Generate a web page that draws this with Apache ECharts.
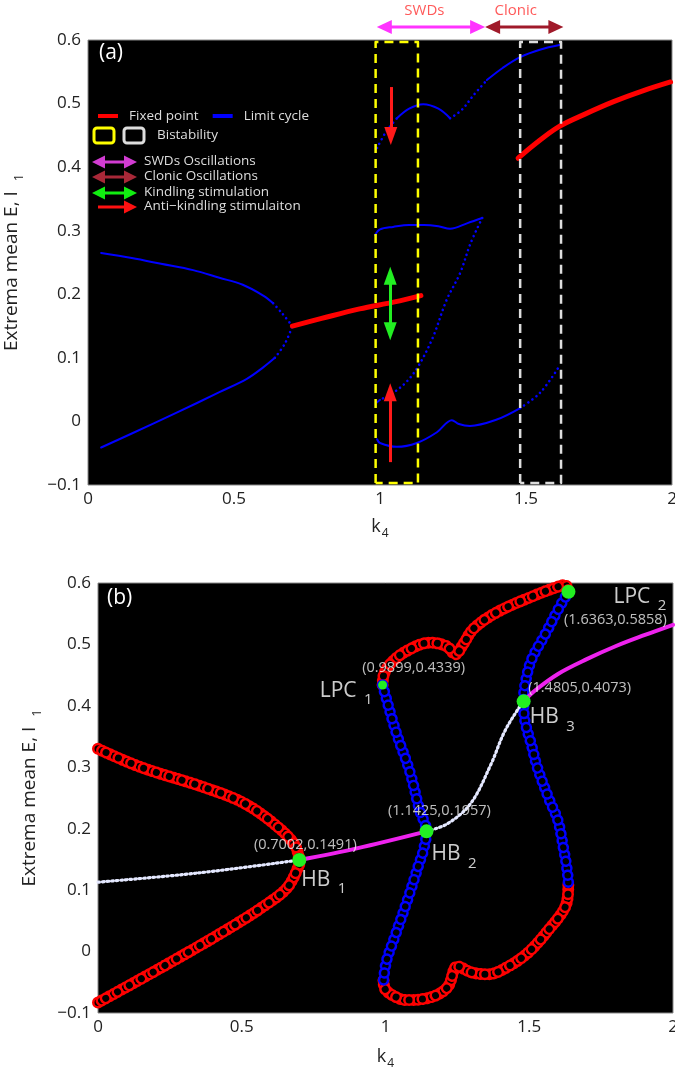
<!DOCTYPE html>
<html><head><meta charset="utf-8">
<script src="https://cdn.jsdelivr.net/npm/echarts/dist/echarts.min.js"></script>
<style>html,body{margin:0;padding:0;background:#fff}#c{width:675px;height:1078px}</style>
</head><body><div id="c"></div>
<script>
// ---------- axis ticks ----------
const xTickValues = [0, 0.5, 1, 1.5, 2];
const yTickValues = [-0.1, 0, 0.1, 0.2, 0.3, 0.4, 0.5, 0.6];

// ---------- panel (a) ----------
const A_upperL_solid = [[0.045,0.265],[0.15,0.257],[0.25,0.248],[0.36,0.238],[0.45,0.226],[0.53,0.215],[0.6,0.198],[0.634,0.186]];
const A_upperL_dots  = [[0.634,0.186],[0.665,0.17],[0.70,0.15]];
const A_lowerL_solid = [[0.045,-0.041],[0.15,-0.019],[0.3,0.013],[0.45,0.046],[0.544,0.067],[0.6,0.085],[0.64,0.1]];
const A_lowerL_dots  = [[0.64,0.1],[0.675,0.123],[0.70,0.15]];
const A_fixed1 = [[0.70,0.15],[0.8,0.162],[0.93,0.177],[1.05,0.188],[1.14,0.198]];
const A_fixed2 = [[1.473,0.414],[1.53,0.436],[1.61,0.463],[1.70,0.483],[1.80,0.503],[1.90,0.52],[1.995,0.534]];
const A_max1_dotsA  = [[0.99,0.43],[1.02,0.455],[1.058,0.477]];
const A_max1_solidA = [[1.058,0.477],[1.1,0.492],[1.148,0.499],[1.2,0.492],[1.24,0.477]];
const A_max1_dotsB  = [[1.24,0.477],[1.28,0.49],[1.32,0.513],[1.366,0.537]];
const A_max1_solidB = [[1.366,0.537],[1.42,0.556],[1.48,0.573],[1.55,0.585],[1.615,0.592]];
const A_max2_solid  = [[0.983,0.293],[1.0,0.302],[1.045,0.306],[1.1,0.309],[1.15,0.309],[1.2,0.307],[1.24,0.303],[1.3,0.312],[1.35,0.32]];
const A_max2_dots   = [[1.35,0.32],[1.31,0.28],[1.274,0.233],[1.228,0.191],[1.18,0.131],[1.13,0.086],[1.09,0.062],[1.045,0.045],[1.0,0.034]];
const A_max2_tail   = [[1.0,0.034],[0.99,0.03]];
const A_min_solid = [[0.99,-0.028],[1.0,-0.034],[1.058,-0.04],[1.126,-0.034],[1.195,-0.017],[1.246,0.002],[1.27,-0.004],[1.308,-0.007],[1.4,0.003],[1.48,0.021]];
const A_min_dots  = [[1.48,0.021],[1.548,0.045],[1.61,0.084]];
const A_boxYellowK = [0.985, 1.13];
const A_boxGrayK   = [1.48, 1.62];
const A_boxV       = [-0.097, 0.597];
const A_arrowRedDown = [[1.037,0.526],[1.037,0.449]];
const A_arrowGreen   = [[1.035,0.229],[1.035,0.142]];
const A_arrowRedUp   = [[1.035,-0.064],[1.035,0.046]];
const A_arrowSWD     = [[0.989,0.6205],[1.36,0.6205]];
const A_arrowClonic  = [[1.36,0.6205],[1.628,0.6205]];
const A_topTexts = ['SWDs','Clonic'];
const A_topTextPts = [[1.152,0.6456],[1.465,0.6456]];

// ---------- panel (b) ----------
const B_redUpperL = [[0,0.33],[0.15,0.30],[0.365,0.268],[0.506,0.242],[0.62,0.205],[0.684,0.174],[0.70,0.151]];
const B_redLowerL = [[0,-0.083],[0.22,-0.026],[0.435,0.032],[0.577,0.074],[0.66,0.105],[0.70,0.142]];
const B_unstable1 = [[0,0.113],[0.35,0.128],[0.7,0.149]];
const B_stable1   = [[0.7002,0.1491],[0.9,0.168],[1.1425,0.1957]];
const B_unstable2 = [[1.1425,0.1957],[1.215,0.208],[1.296,0.241],[1.366,0.304],[1.413,0.357],[1.46,0.394],[1.4805,0.4073]];
const B_stable2   = [[1.4805,0.4073],[1.52,0.425],[1.6,0.452],[1.7,0.476],[1.8,0.497],[1.9,0.515],[2.0,0.532]];
const B_blueLeft  = [[0.9899,0.4339],[1.037,0.357],[1.084,0.294],[1.119,0.23],[1.1425,0.1957],[1.132,0.165],[1.116,0.142],[1.08,0.089],[1.03,0.021],[1.003,-0.016],[0.993,-0.047]];
const B_redBottom = [[0.993,-0.047],[1.0,-0.062],[1.045,-0.076],[1.074,-0.079],[1.16,-0.074],[1.216,-0.058],[1.25,-0.024],[1.30,-0.034],[1.357,-0.037],[1.428,-0.024],[1.5,0.0],[1.57,0.037],[1.62,0.068],[1.634,0.089],[1.636,0.113]];
const B_blueRight = [[1.636,0.113],[1.634,0.124],[1.628,0.145],[1.62,0.166],[1.6,0.213],[1.57,0.247],[1.528,0.30],[1.508,0.336],[1.484,0.378],[1.4805,0.4073],[1.484,0.431],[1.507,0.474],[1.555,0.516],[1.602,0.558],[1.6363,0.5858]];
const B_redTop    = [[0.9899,0.4339],[0.995,0.452],[1.02,0.47],[1.072,0.489],[1.155,0.503],[1.213,0.497],[1.243,0.484],[1.27,0.5],[1.307,0.526],[1.39,0.553],[1.52,0.58],[1.6,0.594],[1.625,0.597],[1.6363,0.5858]];
const B_specialPts   = [[0.7002,0.1491],[1.1425,0.1957],[1.4805,0.4073],[0.9899,0.4339],[1.6363,0.5858]];
const B_specialNames = ['HB','HB','HB','LPC','LPC'];
const B_specialSubs  = ['1','2','3','1','2'];

// ---------- styles ----------
const FONT = 'Open Sans';
const RED = '#ff0000', BLUE = '#0000ff', MAG = '#ee22ee', GREEN = '#22ee22', DOT = '#e4e8ff';

function L(g, data, color, width, style, z, name) {
  const s = {type:'line', xAxisIndex:g, yAxisIndex:g, data, smooth:0.35, showSymbol:false, symbol:'none',
    silent:true, animation:false, z:z||2, color, itemStyle:{color},
    lineStyle:{color, width, type: style==='dot' ? [0.001, 5] : (style||'solid'), cap:'round', join:'round'}};
  if (name) s.name = name;
  return s;
}
// chain of hollow circles: several passes of round dots (colour) each followed by holes (black)
function rings(data, color, step, passes, z, outer, inner) {
  const out = [];
  const gap = step * passes;
  for (let p = 0; p < passes; p++) {
    const base = {type:'line', xAxisIndex:1, yAxisIndex:1, data, smooth:0.35, showSymbol:false, silent:true, animation:false};
    out.push(Object.assign({}, base, {z: z + p*0.1, lineStyle:{color, width:outer, type:[0.001,gap], dashOffset:-p*step, cap:'round'}}));
    out.push(Object.assign({}, base, {z: z + p*0.1 + 0.05, lineStyle:{color:'#000', width:inner, type:[0.001,gap], dashOffset:-p*step, cap:'round'}}));
  }
  return out;
}
function box(k, v) {
  return [[k[0],v[0]],[k[0],v[1]],[k[1],v[1]],[k[1],v[0]],[k[0],v[0]]];
}
function arrowSeries(pair, color, both) {
  return {type:'line', xAxisIndex:0, yAxisIndex:0, data:[], clip:false, silent:true, z:8,
    markLine:{silent:true, animation:false, symbol:[both?'triangle':'none','triangle'], symbolSize:[13,18],
      label:{show:false}, lineStyle:{color, width:3, type:'solid'},
      emphasis:{disabled:true},
      data:[[{coord:pair[0]},{coord:pair[1]}]]}};
}

const series = [];
// panel (a)
series.push(L(0, A_upperL_solid, BLUE, 2, 'solid', 3, 'Limit cycle'));
series.push(L(0, A_upperL_dots, BLUE, 2.6, 'dot', 3));
series.push(L(0, A_lowerL_solid, BLUE, 2, 'solid', 3));
series.push(L(0, A_lowerL_dots, BLUE, 2.6, 'dot', 3));
series.push(L(0, A_fixed1, RED, 5, 'solid', 4, 'Fixed point'));
series.push(L(0, A_fixed2, RED, 5, 'solid', 4));
series.push(L(0, A_max1_dotsA, BLUE, 2.6, 'dot', 3));
series.push(L(0, A_max1_solidA, BLUE, 2, 'solid', 3));
series.push(L(0, A_max1_dotsB, BLUE, 2.6, 'dot', 3));
series.push(L(0, A_max1_solidB, BLUE, 2, 'solid', 3));
series.push(L(0, A_max2_solid, BLUE, 2, 'solid', 3));
series.push(L(0, A_max2_dots, BLUE, 2.6, 'dot', 3));
series.push(L(0, A_max2_tail, BLUE, 2, 'solid', 3));
series.push(L(0, A_min_solid, BLUE, 2, 'solid', 3));
series.push(L(0, A_min_dots, BLUE, 2.6, 'dot', 3));
const yb = L(0, box(A_boxYellowK, A_boxV), '#ffff00', 2.5, [9,6], 5); yb.smooth = false; yb.lineStyle.cap='butt'; series.push(yb);
const gb = L(0, box(A_boxGrayK, A_boxV), '#dddddd', 2.5, [9,6], 5); gb.smooth = false; gb.lineStyle.cap='butt'; series.push(gb);
series.push(arrowSeries(A_arrowRedDown, '#ff1a1a', false));
series.push(arrowSeries(A_arrowGreen, '#22ee22', true));
series.push(arrowSeries(A_arrowRedUp, '#ff1a1a', false));
series.push({type:'scatter', xAxisIndex:0, yAxisIndex:0, clip:false, silent:true, symbolSize:0, z:9,
  data: A_topTextPts.map((p,i)=>({value:p, label:{formatter:A_topTexts[i]}})),
  label:{show:true, position:'inside', color:'#ff3030', fontSize:15, fontFamily:FONT}});

// panel (b)
[B_redUpperL, B_redLowerL, B_redBottom, B_redTop].forEach(d => rings(d, RED, 4.5, 3, 3, 12, 7).forEach(s=>series.push(s)));
[B_blueLeft, B_blueRight].forEach(d => rings(d, BLUE, 7, 2, 5, 11.5, 6.5).forEach(s=>series.push(s)));
series.push(L(1, B_unstable1, DOT, 3.2, [1.6,3], 7));
series.push(L(1, B_unstable2, DOT, 3.2, [1.6,3], 7));
series.push(L(1, B_stable1, MAG, 4, 'solid', 7));
series.push(L(1, B_stable2, MAG, 4, 'solid', 7));
const greenSizes = [14,14,14,9,14];
series.push({type:'scatter', xAxisIndex:1, yAxisIndex:1, silent:true, z:10,
  data: B_specialPts.map((p,i)=>({value:p, symbolSize:greenSizes[i]})),
  itemStyle:{color:GREEN, opacity:1}});
const coordOffsets = [[6,-15],[13,-20],[56,-13],[31,-17],[47,28]];
series.push({type:'scatter', xAxisIndex:1, yAxisIndex:1, silent:true, z:11, symbolSize:1, itemStyle:{color:'transparent'},
  data: B_specialPts.map((p,i)=>({value:p, label:{offset:coordOffsets[i],
     formatter:'(' + p[0].toFixed(4) + ',' + p[1].toFixed(4) + ')'}})),
  label:{show:true, position:'inside', color:'#eeeeee', fontSize:14.5, fontFamily:FONT}});
const nameOffsets = [[2,20],[5,23],[6,16],[-10,6],[45,5]];
const nameAligns  = ['left','left','left','right','left'];
series.push({type:'scatter', xAxisIndex:1, yAxisIndex:1, silent:true, z:11, symbolSize:1, itemStyle:{color:'transparent'},
  data: B_specialPts.map((p,i)=>({value:p, label:{offset:nameOffsets[i], align:nameAligns[i],
     formatter: B_specialNames[i] + ' {s|' + B_specialSubs[i] + '}'}})),
  label:{show:true, position:'inside', color:'#ffffff', fontSize:21, fontFamily:FONT,
     rich:{s:{fontSize:15, color:'#ffffff', fontFamily:FONT, padding:[18,0,0,2]}}}});

function fmtY(v){ const r = parseFloat(v.toFixed(2)); return r < 0 ? '\u2212' + Math.abs(r) : String(r); }
function fmtX(v){ return String(parseFloat(v.toFixed(2))); }
function xAx(g){ return {type:'value', gridIndex:g, min:0, max:2, interval:0.5,
  axisLine:{show:false}, axisTick:{show:false}, splitLine:{show:false},
  axisLabel:{color:'#222', fontSize:17, fontFamily:FONT, margin:6, formatter:fmtX},
  name:'k{s|4}', nameLocation:'middle', nameGap:g===0?29:31,
  nameTextStyle:{color:'#222', fontSize:18, fontFamily:FONT, rich:{s:{fontSize:12, color:'#222', fontFamily:FONT, padding:[14,0,0,1]}}}}; }
function yAx(g){ return {type:'value', gridIndex:g, min:-0.1, max:0.6, interval:0.1,
  axisLine:{show:false}, axisTick:{show:false}, splitLine:{show:false},
  axisLabel:{color:'#222', fontSize:17, fontFamily:FONT, margin:7, formatter:fmtY},
  name:'Extrema mean E, I  {s|1}', nameLocation:'middle', nameGap:g===0?62:54,
  nameTextStyle:{color:'#222', fontSize:19, fontFamily:FONT, rich:{s:{fontSize:13, color:'#222', fontFamily:FONT, padding:[16,0,0,0]}}}}; }

function dblArrow(x1, x2, y, color, single, hl, hw){
  hl = hl || 13; hw = hw || 6.5;
  const ch = [{type:'line', z:20, shape:{x1: single? x1 : x1+hl-2, y1:y, x2:x2-hl+2, y2:y}, style:{stroke:color, lineWidth:3}},
    {type:'polygon', z:20, shape:{points:[[x2,y],[x2-hl,y-hw],[x2-hl,y+hw]]}, style:{fill:color}}];
  if(!single) ch.push({type:'polygon', z:20, shape:{points:[[x1,y],[x1+hl,y-hw],[x1+hl,y+hw]]}, style:{fill:color}});
  return ch;
}
const legTxt = (x,y,t)=>({type:'text', x, y, style:{text:t, fill:'#dddddd', fontSize:13.5, fontFamily:FONT, verticalAlign:'middle'}});
const graphic = [
  {type:'text', left:99, top:43, style:{text:'(a)', fill:'#ffffff', fontSize:21, fontFamily:FONT}},
  {type:'text', left:107, top:588, style:{text:'(b)', fill:'#ffffff', fontSize:21, fontFamily:FONT}},
  {type:'rect', shape:{x:94, y:128, width:20, height:15, r:3}, style:{fill:'none', stroke:'#ffff00', lineWidth:3}},
  {type:'rect', shape:{x:124, y:128, width:20, height:15, r:3}, style:{fill:'none', stroke:'#dddddd', lineWidth:3}},
  legTxt(157, 135, 'Bistability'),
  ...dblArrow(92, 137, 162, '#d23cd2'),
  legTxt(144, 161, 'SWDs Oscillations'),
  ...dblArrow(92, 137, 177, '#a82838'),
  legTxt(144, 176, 'Clonic Oscillations'),
  ...dblArrow(92, 137, 193, '#11ee11'),
  legTxt(144, 192, 'Kindling stimulation'),
  ...dblArrow(98, 137, 207, '#ff1111', true),
  legTxt(144, 206, 'Anti\u2212kindling stimulaiton')
];

const option = {
  animation:false,
  backgroundColor:'#ffffff',
  textStyle:{fontFamily:FONT},
  grid:[
    {left:88, top:40, width:584, height:445, show:true, backgroundColor:'#000', borderColor:'#888', borderWidth:1, outerBoundsMode:'none'},
    {left:98, top:583, width:575, height:430, show:true, backgroundColor:'#000', borderColor:'#888', borderWidth:1, outerBoundsMode:'none'}
  ],
  xAxis:[xAx(0), xAx(1)],
  yAxis:[yAx(0), yAx(1)],
  legend:{data:['Fixed point','Limit cycle'], left:93, top:104, orient:'horizontal', icon:'rect', itemWidth:20, itemHeight:4,
    itemGap:14, selectedMode:false, textStyle:{color:'#dddddd', fontSize:13.5, fontFamily:FONT, padding:[0,0,0,6]}},
  graphic,
  series
};
const chart = echarts.init(document.getElementById('c'), null, {renderer:'canvas'});
chart.setOption(option);
// arrows above panel (a), positioned through the axis scales
const s1 = chart.convertToPixel({gridIndex:0}, A_arrowSWD[0]);
const s2 = chart.convertToPixel({gridIndex:0}, A_arrowSWD[1]);
const c1 = chart.convertToPixel({gridIndex:0}, A_arrowClonic[0]);
const c2 = chart.convertToPixel({gridIndex:0}, A_arrowClonic[1]);
chart.setOption({graphic: graphic.concat(
  dblArrow(s1[0], s2[0], s1[1], '#ff33ff', false, 15, 7),
  dblArrow(c1[0], c2[0], c1[1], '#a01a2a', false, 15, 7))});
</script></body></html>
